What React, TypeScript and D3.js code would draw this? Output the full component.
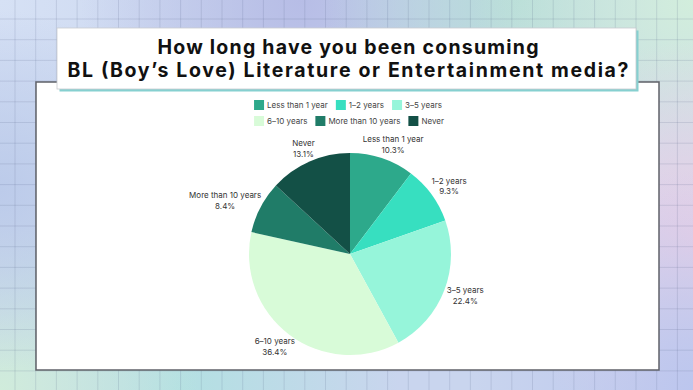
import React, { useEffect, useRef } from 'react';
import * as d3 from 'd3';

// survey answers, clockwise from 12 o'clock
const categories = ['Less than 1 year', '1–2 years', '3–5 years', '6–10 years', 'More than 10 years', 'Never'];
const shares = [10.3, 9.3, 22.4, 36.4, 8.4, 13.1];
const sliceColors = ['#2da98b', '#37dfc0', '#96f5da', '#d8fbd8', '#207c68', '#135046'];
const titleLines = ['How long have you been consuming', 'BL (Boy’s Love) Literature or Entertainment media?'];

const W = 693;
const H = 390;

const App = () => {
  const ref = useRef<SVGSVGElement>(null);

  useEffect(() => {
    const svg = d3.select(ref.current);
    svg.selectAll('*').remove();

    // pastel background blobs
    const defs = svg.append('defs');
    const blobs = [
      { x: 0, y: 0, r: 260, c: '#d6e1f5' },
      { x: 300, y: 0, r: 220, c: '#b7bde6' },
      { x: 520, y: 0, r: 200, c: '#b6dcd8' },
      { x: 693, y: 0, r: 220, c: '#d2eedc' },
      { x: 693, y: 240, r: 200, c: '#ead0e6' },
      { x: 693, y: 390, r: 220, c: '#bcc6ee' },
      { x: 180, y: 390, r: 220, c: '#b3e0e2' },
      { x: 0, y: 390, r: 200, c: '#d0ecdb' },
      { x: 0, y: 190, r: 180, c: '#bccbea' },
    ];
    svg.append('rect').attr('width', W).attr('height', H).attr('fill', '#c9d5ee');
    blobs.forEach((b, i) => {
      const g = defs.append('radialGradient').attr('id', 'blob' + i)
        .attr('gradientUnits', 'userSpaceOnUse')
        .attr('cx', b.x).attr('cy', b.y).attr('r', b.r);
      g.append('stop').attr('offset', '0%').attr('stop-color', b.c).attr('stop-opacity', 1);
      g.append('stop').attr('offset', '100%').attr('stop-color', b.c).attr('stop-opacity', 0);
      svg.append('rect').attr('width', W).attr('height', H).attr('fill', `url(#blob${i})`);
    });

    // grid
    const step = 20.7;
    const grid = svg.append('g').attr('stroke', 'rgba(80,95,130,0.16)').attr('stroke-width', 1);
    d3.range(15, W, step).forEach(x => {
      grid.append('line').attr('x1', x).attr('x2', x).attr('y1', 0).attr('y2', H);
    });
    d3.range(19, H, step).forEach(y => {
      grid.append('line').attr('y1', y).attr('y2', y).attr('x1', 0).attr('x2', W);
    });

    // white chart card
    svg.append('rect')
      .attr('x', 36).attr('y', 82).attr('width', 623).attr('height', 288)
      .attr('fill', '#fff').attr('stroke', '#5f6168').attr('stroke-width', 1.5);

    // title card
    svg.append('rect')
      .attr('x', 59.5).attr('y', 30.5).attr('width', 579).attr('height', 61)
      .attr('fill', '#86d0d0');
    svg.append('rect')
      .attr('x', 57).attr('y', 28).attr('width', 579).attr('height', 61)
      .attr('fill', '#fff').attr('stroke', '#c8cbd0').attr('stroke-width', 0.8);
    const titleWidths = [381, 561];
    svg.append('g').selectAll('text').data(titleLines).join('text')
      .attr('x', 348).attr('y', (d, i) => 53.5 + i * 23.5)
      .attr('text-anchor', 'middle')
      .attr('font-family', 'Inter, sans-serif').attr('font-weight', 700)
      .attr('font-size', 19.5)
      .attr('textLength', (d, i) => titleWidths[i]).attr('lengthAdjust', 'spacing')
      .attr('fill', '#111').text(d => d);

    // legend, wrapped into rows and centred
    const font = 'Inter, sans-serif';
    const legend = svg.append('g');
    const items = legend.selectAll('g').data(categories).join('g');
    items.append('rect').attr('width', 10).attr('height', 10).attr('y', -5)
      .attr('fill', (d, i) => sliceColors[i]);
    items.append('text').attr('x', 13).attr('dy', '0.35em')
      .attr('font-family', font).attr('font-size', 8).attr('fill', '#444').text(d => d);
    const widths = items.nodes().map(n => 13 + (n.querySelector('text') as SVGTextElement).getComputedTextLength());
    const rows: { idx: number; x: number }[][] = [];
    let row: { idx: number; x: number }[] = [];
    let rx = 0;
    const maxRow = 200;
    widths.forEach((w, i) => {
      if (row.length && rx + w > maxRow) { rows.push(row); row = []; rx = 0; }
      row.push({ idx: i, x: rx });
      rx += w + 8;
    });
    rows.push(row);
    const rowWidth = (r: { idx: number; x: number }[]) => r[r.length - 1].x + widths[r[r.length - 1].idx];
    const blockW = d3.max(rows, rowWidth) as number;
    const lx0 = 349 - blockW / 2;
    rows.forEach((r, ri) => r.forEach(p => {
      d3.select(items.nodes()[p.idx]).attr('transform', `translate(${lx0 + p.x},${105 + ri * 16})`);
    }));

    // pie
    const cx = 350, cy = 254, R = 101;
    const pie = d3.pie<number>().sort(null).value(d => d);
    const arc = d3.arc<d3.PieArcDatum<number>>().innerRadius(0).outerRadius(R);
    const arcs = pie(shares);
    const g = svg.append('g').attr('transform', `translate(${cx},${cy})`);
    g.selectAll('path').data(arcs).join('path')
      .attr('d', arc).attr('fill', (d, i) => sliceColors[i]);

    // outside labels, box pushed away from the rim
    const labels = g.selectAll('g.lbl').data(arcs).join('g').attr('class', 'lbl');
    labels.append('text').attr('dy', '-0.25em').text((d, i) => categories[i]);
    labels.append('text').attr('dy', '1.1em').text(d => d.data.toFixed(1) + '%');
    labels.selectAll('text')
      .attr('text-anchor', 'middle').attr('font-family', font)
      .attr('font-size', 8).attr('fill', '#333');
    labels.each(function (d) {
      const node = this as SVGGElement;
      const bb = node.getBBox();
      const a = (d.startAngle + d.endAngle) / 2;
      const s = Math.sin(a), c = Math.cos(a);
      const rr = R + 4;
      const x = rr * s + (bb.width / 2) * s;
      const y = -rr * c - (bb.height / 2) * c - (bb.y + bb.height / 2);
      d3.select(node).attr('transform', `translate(${x},${y})`);
    });
  }, []);

  return (
    <div>
      <style>{`body{margin:0}`}</style>
      <svg ref={ref} width={W} height={H} style={{ display: 'block' }} />
    </div>
  );
};

export default App;
